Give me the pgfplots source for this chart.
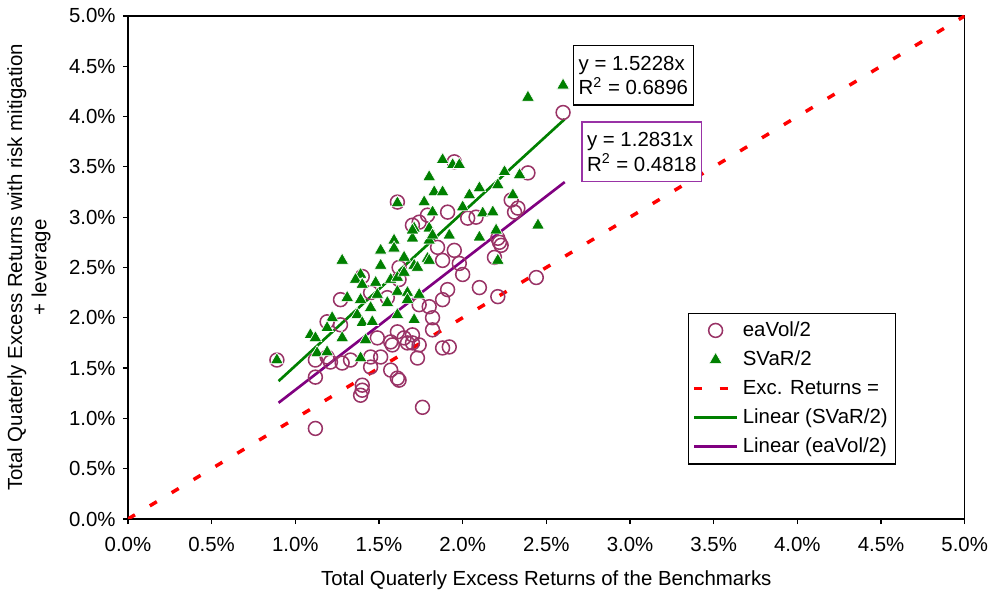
\documentclass[border=0pt]{standalone}
\usepackage{fontspec}
\setmainfont{Liberation Sans}
\usepackage{pgfplots}
\usepackage{pgfplotstable}
\pgfplotsset{compat=1.18}
\definecolor{plum}{HTML}{993366}
\definecolor{svgreen}{HTML}{008000}
\definecolor{trpurple}{HTML}{800080}
\definecolor{boxpurple}{HTML}{9933A6}
\definecolor{excred}{HTML}{FF0000}

% eaVol/2 scatter
\pgfplotstableread{
x y
2.60 4.04
2.39 3.44
2.44 2.40
2.31 3.05
2.29 3.17
2.33 3.09
2.21 2.79
2.23 2.72
2.19 2.60
2.22 2.75
2.08 3.00
2.03 2.99
1.91 3.05
1.79 3.02
1.74 2.95
1.95 3.55
1.98 2.54
2.00 2.43
2.10 2.30
2.21 2.21
1.91 2.28
1.88 2.18
1.74 2.13
1.82 2.00
1.82 1.88
1.70 1.83
1.67 1.75
1.74 1.73
1.92 1.71
1.73 1.60
1.62 1.38
1.76 1.11
1.61 3.15
1.70 2.92
1.19 1.96
1.27 1.93
1.49 1.80
1.57 1.76
1.61 1.86
1.65 1.80
1.70 1.75
1.51 1.61
1.45 1.61
1.28 1.55
1.33 1.58
1.57 1.48
1.61 1.40
1.40 1.33
1.40 1.28
1.39 1.23
1.12 1.41
1.12 1.58
1.19 1.61
0.89 1.58
1.12 0.90
1.58 1.73
1.88 1.70
1.21 1.56
1.45 1.51
1.40 2.41
1.45 2.25
1.55 2.20
1.27 2.18
1.62 2.50
1.85 2.70
1.88 2.57
1.80 2.11
1.62 2.38
1.95 2.67
}\eavol

% SVaR/2 scatter
\pgfplotstableread{
x y
2.60 4.31
2.39 4.19
1.88 3.57
1.94 3.52
1.98 3.52
1.80 3.40
2.25 3.45
2.34 3.42
2.21 3.32
2.10 3.29
2.04 3.22
2.30 3.22
1.83 3.25
1.88 3.25
1.77 3.15
1.82 3.05
2.00 3.10
2.12 3.04
2.18 3.05
2.45 2.92
2.20 2.87
2.10 2.80
2.21 2.57
1.71 2.89
1.70 2.79
1.80 2.89
1.80 2.77
1.92 2.82
1.79 2.59
1.65 2.60
1.71 2.52
1.61 3.14
1.59 2.77
1.59 2.69
1.51 2.67
1.51 2.52
1.28 2.57
1.39 2.43
1.36 2.38
1.48 2.35
1.40 2.33
1.57 2.38
1.61 2.40
1.65 2.45
1.31 2.20
1.39 2.18
1.45 2.10
1.49 2.23
1.55 2.15
1.61 2.26
1.67 2.25
1.22 2.00
1.37 2.03
1.40 1.95
1.46 1.96
1.61 2.03
1.09 1.83
1.12 1.80
1.28 1.80
1.42 1.78
1.13 1.65
1.19 1.66
1.39 1.60
0.89 1.58
1.71 1.98
1.74 2.23
1.67 2.18
1.73 2.50
1.70 2.87
1.82 2.82
1.80 2.57
1.19 1.90
}\svar

\begin{document}
\begin{tikzpicture}
\useasboundingbox (-62.7pt,-35.8pt) rectangle (421.9pt,254.3pt);
\begin{axis}[
  at={(0,0)}, anchor=south west, scale only axis,
  width=410pt, height=246.5pt,
  xmin=0, xmax=5, ymin=0, ymax=5,
  xtick={0,0.5,...,5}, ytick={0,0.5,...,5},
  xtick pos=bottom, ytick pos=left,
  tick align=outside, major tick length=2.5pt,
  xticklabel={\pgfmathprintnumber[fixed,fixed zerofill,precision=1]{\tick}\%},
  yticklabel={\pgfmathprintnumber[fixed,fixed zerofill,precision=1]{\tick}\%},
  /pgf/number format/assume math mode=true,
  tick label style={font=\normalsize},
  xticklabel style={yshift=-3pt},
  axis line style={black, line width=0.6pt},
  tick style={black, line width=0.6pt},
  xlabel={Total Quaterly Excess Returns of the Benchmarks},
  ylabel={Total Quaterly Excess Returns with risk mitigation\\+ leverage},
  xlabel style={at={(axis description cs:0.5,0)}, anchor=center, yshift=-30pt},
  ylabel style={at={(axis description cs:-0.1183,0.5)}, anchor=center, align=center},
  legend style={at={(axis cs:3.345,2.05)}, anchor=north west, draw=black, fill=white,
    line width=0.6pt, font=\normalsize, row sep=1.6pt, inner xsep=2pt, inner ysep=2pt},
  legend cell align=left,
  legend image code/.code={\draw[mark repeat=2,mark phase=2,#1] plot coordinates {(0pt,0pt) (10.5pt,0pt) (21pt,0pt)};},
]
\addplot[only marks, mark=o, mark size=3.4pt, mark options={draw=plum, line width=0.75pt}] table[x=x,y=y] {\eavol};
\addlegendentry{eaVol/2}
\addplot[only marks, mark=triangle*, mark size=3.6pt, mark options={fill=svgreen, draw=white, line width=0.3pt}] table[x=x,y=y] {\svar};
\addlegendentry{SVaR/2}
\addplot[excred, line width=1.7pt, dash pattern=on 4pt off 8.5pt] coordinates {(0,0) (5,5)};
\addlegendentry{Exc. Returns =}
\addplot[svgreen, line width=1.3pt] coordinates {(0.9,1.3705) (2.61,3.9745)};
\addlegendentry{Linear (SVaR/2)}
\addplot[trpurple, line width=1.3pt] coordinates {(0.9,1.1548) (2.61,3.3489)};
\addlegendentry{Linear (eaVol/2)}
\node[draw=black, fill=white, align=left, inner xsep=2.5pt, inner ysep=5pt, line width=0.6pt] at (axis cs:3.02,4.41) {y = 1.5228x\\R\textsuperscript{2} = 0.6896};
\node[draw=boxpurple, fill=white, align=left, inner xsep=2.5pt, inner ysep=5pt, line width=0.6pt] at (axis cs:3.07,3.65) {y = 1.2831x\\R\textsuperscript{2} = 0.4818};
\end{axis}
\end{tikzpicture}
\end{document}
